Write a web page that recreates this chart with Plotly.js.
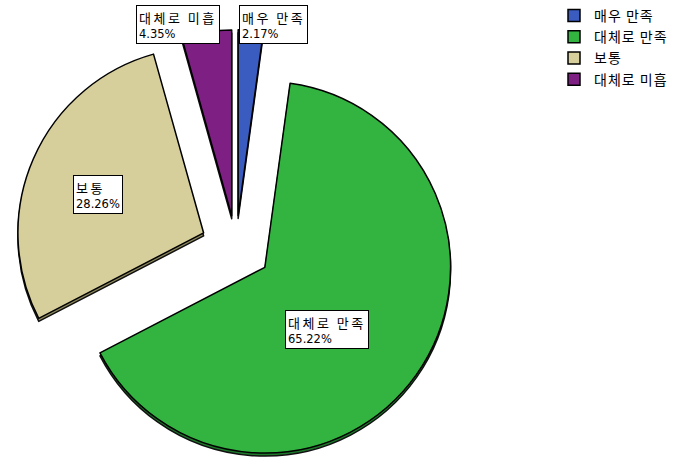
<!DOCTYPE html>
<html>
<head>
<meta charset="utf-8">
<script src="https://cdn.plot.ly/plotly-3.0.1.min.js"></script>
<style>
html,body{margin:0;padding:0;background:#fff;}
#chart{width:677px;height:471px;}
.legendtext{letter-spacing:1px;}
</style>
</head>
<body>
<div id="chart"></div>
<script>
// ---- data ----
const categories = ['매우 만족', '대체로 만족', '보통', '대체로 미흡'];
const percents = [2.17, 65.22, 28.26, 4.35];

// ---- style ----
const colors = ['#3a5bbf', '#33b441', '#d7cf9b', '#7e2083'];
const shadowColors = ['#223a80', '#1d7a2a', '#8f8a5e', '#4e1252'];
const pulls = [0.17, 0.19, 0.19, 0.17];
const labelRadius = [1.218, 0.660, 0.796, 1.241];
const labelAngleNudge = [5.76, 6.8, -2.5, -6.8];

const W = 677, H = 471;
const maxPull = Math.max.apply(null, pulls);
const half = 221;          // half of pie domain box, px
const cx = 236, cy = 247;  // domain centre (px from left/top)
const depth = 3;
const r = half / (1 + maxPull);

function dom(offY) {
  return {
    x: [(cx - half) / W, (cx + half) / W],
    y: [Math.max(0, (H - (cy + offY) - half) / H), Math.min(1, (H - (cy + offY) + half) / H)]
  };
}

const font = {family: 'DejaVu Sans, Noto Sans CJK KR, sans-serif', size: 11.5, color: '#000'};

const shadow = {
  type: 'pie', labels: categories, values: percents, sort: false,
  direction: 'clockwise', rotation: 0, pull: pulls,
  marker: {colors: shadowColors, line: {color: '#111', width: 1.5}},
  textinfo: 'none', hoverinfo: 'skip', showlegend: false,
  domain: dom(depth)
};
const main = {
  type: 'pie', labels: categories, values: percents, sort: false,
  direction: 'clockwise', rotation: 0, pull: pulls,
  marker: {colors: colors, line: {color: '#000', width: 1.5}},
  textinfo: 'none', hoverinfo: 'label+percent',
  domain: dom(0)
};

// label boxes placed from the slice mid-angles
const total = percents.reduce((a, b) => a + b, 0);
let acc = 0;
const annotations = percents.map((v, i) => {
  const mid = (acc + v / 2) / total * 360 + labelAngleNudge[i];
  acc += v;
  const a = mid * Math.PI / 180;
  const px = cx + labelRadius[i] * r * Math.sin(a);
  const py = cy - labelRadius[i] * r * Math.cos(a);
  return {
    xref: 'paper', yref: 'paper', x: px / W, y: 1 - py / H,
    xanchor: 'center', yanchor: 'middle', showarrow: false, align: 'left',
    text: '<span style="font-family:\'Noto Sans CJK KR\';font-size:13px;letter-spacing:2.5px">' +
          categories[i] + '</span><br>' + v.toFixed(2) + '%',
    font: font, bgcolor: '#fff', bordercolor: '#000', borderwidth: 1, borderpad: 2
  };
});

const layout = {
  width: W, height: H,
  margin: {l: 0, r: 0, t: 0, b: 0, autoexpand: false},
  paper_bgcolor: '#fff', plot_bgcolor: '#fff',
  showlegend: true,
  legend: {x: 554 / W, y: 1, xanchor: 'left', yanchor: 'top',
           font: {family: 'Noto Sans CJK KR, sans-serif', size: 14, color: '#000'},
           bgcolor: 'rgba(0,0,0,0)'},
  annotations: annotations
};

Plotly.newPlot('chart', [shadow, main], layout, {displayModeBar: false, staticPlot: true});
</script>
</body>
</html>
